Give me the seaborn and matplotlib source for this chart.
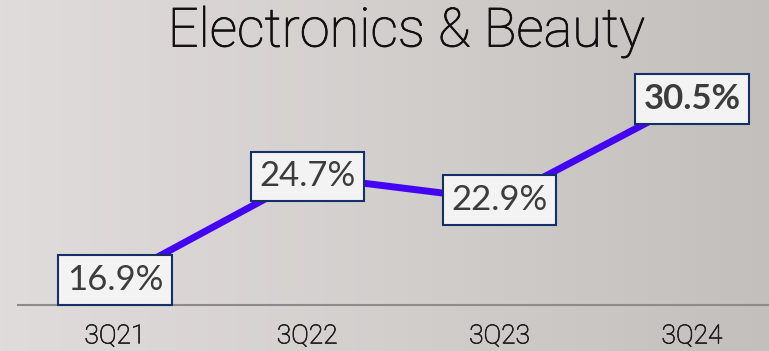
import numpy as np
import pandas as pd
import matplotlib
matplotlib.use("Agg")
import matplotlib.pyplot as plt
import matplotlib.patheffects as pe
import seaborn as sns
from matplotlib.colors import LinearSegmentedColormap

quarters = ["3Q21", "3Q22", "3Q23", "3Q24"]
share = [16.9, 24.7, 22.9, 30.5]
labels = ["16.9%", "24.7%", "22.9%", "30.5%"]

sns.set_theme(style="white")
plt.rcParams['font.family'] = ['Lato', 'DejaVu Sans']

W, H = 769, 351
fig = plt.figure(figsize=(W / 100, H / 100), dpi=100)

# gradient background
bg = fig.add_axes([0, 0, 1, 1], zorder=-10)
cmap = LinearSegmentedColormap.from_list("bg", ["#e1dcdc", "#d3cfcd", "#c3bfbc"])
grad = np.linspace(0, 1, 256).reshape(1, -1)
bg.imshow(grad, aspect="auto", cmap=cmap, extent=[0, 1, 0, 1])
bg.axis("off")

base_px, top_px = 305, 60
ax = fig.add_axes([18 / W, (H - base_px) / H, 1 - 18 / W, (base_px - top_px) / H])
ax.patch.set_alpha(0)
df = pd.DataFrame({"q": quarters, "v": share})
xpos = np.arange(len(quarters))
sns.lineplot(x=xpos, y=df["v"], ax=ax, color="#4505f5", linewidth=5, legend=False)

px0, px3 = 115, 692
unit = (px3 - px0) / 3
ax.set_xlim(-(px0 - 18) / unit, -(px0 - 18) / unit + (W - 18) / unit)
ppu = (280 - 99) / (30.5 - 16.9)
ymin = 16.9 - (base_px - 280) / ppu
ax.set_ylim(ymin, ymin + (base_px - top_px) / ppu)

for i, (v, lab) in enumerate(zip(share, labels)):
    bold = i == len(share) - 1
    ax.text(i, v, lab, ha="center", va="center", fontsize=25,
            fontweight="bold" if bold else "normal", color="#3c3c3c",
            bbox=dict(boxstyle="square,pad=0.25", facecolor="#f3f3f3",
                      edgecolor="#14306a", linewidth=1.5), zorder=5)

for s in ["top", "right", "left"]:
    ax.spines[s].set_visible(False)
ax.spines["bottom"].set_color("#8c8c8c")
ax.spines["bottom"].set_linewidth(1.5)
ax.set_yticks([])
ax.set_xticks(xpos)
ticklabs = ax.set_xticklabels(quarters, fontsize=19, color="#1e1e1e",
                              family=["Roboto", "DejaVu Sans"], fontweight="light")
for t in ticklabs:
    t.set_path_effects([pe.withStroke(linewidth=0.5, foreground="#1e1e1e")])
ax.tick_params(axis="x", length=0, pad=14)
ax.set_xlabel("")
ax.set_ylabel("")

fig.text(406 / W, 1 - 32 / H, "Electronics & Beauty", ha="center", va="center",
         fontsize=39, fontweight="light", color="#101010",
         family=["Roboto", "DejaVu Sans"],
         path_effects=[pe.withStroke(linewidth=0.6, foreground="#101010")])

fig.savefig("out.png", dpi=100)
